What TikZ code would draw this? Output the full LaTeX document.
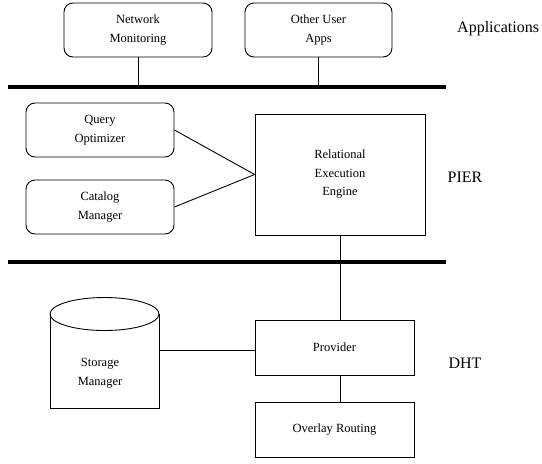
\documentclass[tikz,border=0pt]{standalone}
\usepackage{fontspec}
\setmainfont{Liberation Serif}
\begin{document}
\begin{tikzpicture}[x=1pt,y=-1pt,
  roundbox/.style={draw,line width=0.9pt,rounded corners=9pt,inner sep=0pt,
    align=center,font=\fontsize{12.5}{18.5}\selectfont},
  plainbox/.style={draw,line width=0.9pt,inner sep=0pt,
    align=center,font=\fontsize{12.5}{18.5}\selectfont},
  boxtext/.style={align=center,inner sep=0pt,font=\fontsize{12.5}{18.5}\selectfont},
  layerlabel/.style={inner sep=0pt,font=\fontsize{16}{19}\selectfont},
  bus/.style={line width=3.8pt},
  link/.style={line width=0.9pt}]
\useasboundingbox (0,0) rectangle (542,464);

% Applications layer
\node[roundbox,minimum width=148pt,minimum height=54pt] (nm) at (138,30) {Network\\Monitoring};
\node[roundbox,minimum width=147pt,minimum height=54pt] (oua) at (318.5,30) {Other User\\Apps};
\node[layerlabel,anchor=west] (apps) at (457,29) {Applications};

% upper bus
\coordinate (b1l) at (8,87);
\coordinate (b1r) at (446,87);
\draw[bus] (b1l) -- (b1r);
\draw[link] (nm.south) -- (nm.south |- b1l);
\draw[link] (oua.south) -- (oua.south |- b1l);

% PIER layer
\node[roundbox,minimum width=148pt,minimum height=54pt] (qo) at (100,130) {Query\\Optimizer};
\node[roundbox,minimum width=148pt,minimum height=54pt] (cm) at (100,207) {Catalog\\Manager};
\node[plainbox,minimum width=170pt,minimum height=121pt] (ree) at (340,174.5) {Relational\\Execution\\Engine};
\node[layerlabel] (pier) at (465,177) {PIER};
\draw[link] (qo.east) -- (ree.west);
\draw[link] (cm.east) -- (ree.west);

% lower bus
\coordinate (b2l) at (8,262);
\coordinate (b2r) at (446,262);
\draw[bus] (b2l) -- (b2r);

% DHT layer
\node[plainbox,minimum width=159pt,minimum height=55pt] (prov) at (334.5,347.5) {Provider};
\node[plainbox,minimum width=159pt,minimum height=55pt] (ovr) at (334.5,429.5) {Overlay Routing};
\node[layerlabel] (dht) at (465,363) {DHT};
\draw[link] (ree.south) -- (ree.south |- prov.north);
\draw[link] (ree.south |- prov.south) -- (ree.south |- ovr.north);

% storage manager drum
\draw[link] (50,314) -- (50,408) -- (159,408) -- (159,314);
\draw[link] (104.5,314) ellipse [x radius=54.5pt, y radius=16.5pt];
\node[boxtext] (sm) at (100,373) {Storage\\Manager};
\coordinate (smr) at (159,350);
\draw[link] (smr) -- (smr -| prov.west);
\end{tikzpicture}
\end{document}
